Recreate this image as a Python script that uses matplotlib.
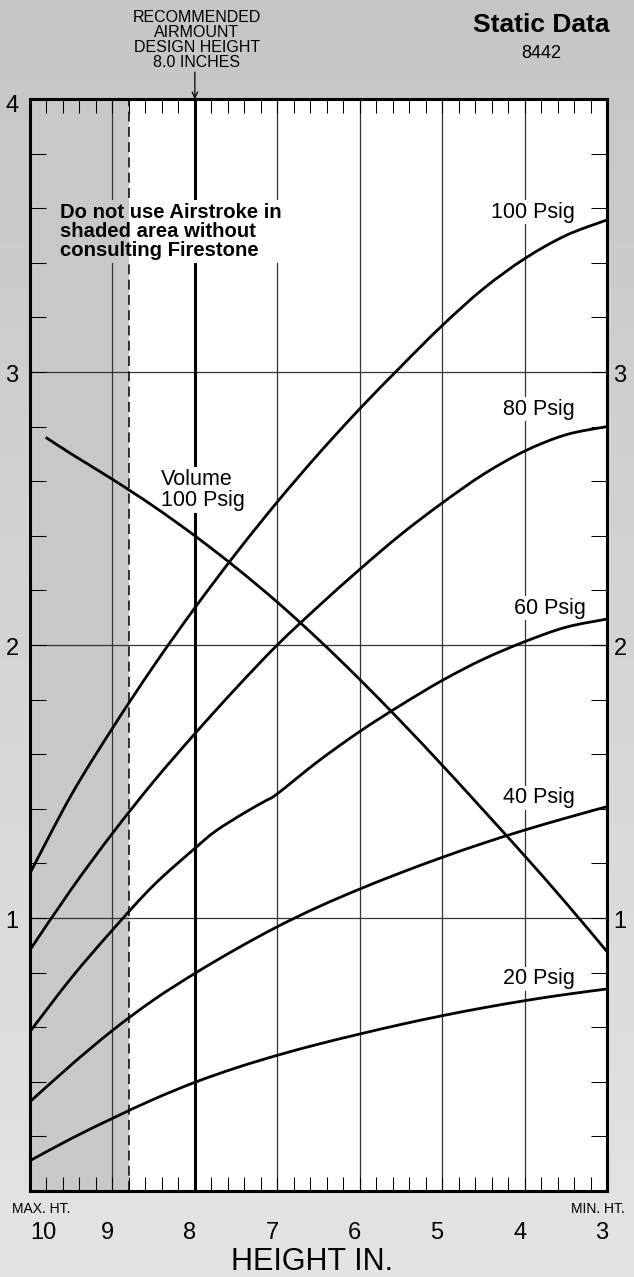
import numpy as np
import matplotlib
matplotlib.use("Agg")
import matplotlib.pyplot as plt
from matplotlib.ticker import MultipleLocator
from matplotlib.patches import Rectangle, PathPatch
from matplotlib.path import Path

plt.rcParams['font.family'] = ['Liberation Sans', 'DejaVu Sans']

# ---- data (height in inches, force in 1000 lbs) ----
height = [10, 9.5, 9, 8.5, 8, 7.5, 7, 6.5, 6, 5.5, 5, 4.5, 4, 3.5, 3]
force_100 = [1.164, 1.45, 1.695, 1.923, 2.136, 2.336, 2.524, 2.700, 2.865, 3.020,
             3.170, 3.305, 3.415, 3.500, 3.557]
force_80 = [0.883, 1.105, 1.31, 1.50, 1.675, 1.842, 2.0, 2.142, 2.277, 2.405,
            2.52, 2.625, 2.71, 2.77, 2.80]
force_40 = [0.327, 0.462, 0.588, 0.700, 0.797, 0.886, 0.968, 1.041, 1.106, 1.166,
            1.222, 1.274, 1.322, 1.366, 1.408]
force_20 = [0.111, 0.192, 0.266, 0.336, 0.398, 0.451, 0.497, 0.538, 0.575, 0.610,
            0.642, 0.671, 0.697, 0.720, 0.740]

# 60 psig has a small flat spot near 7.2 in.
height_60 = [10, 9.5, 9, 8.5, 8, 7.75, 7.4, 7.15, 7, 6.5, 6, 5.5, 5, 4.5, 4,
             3.5, 3]
force_60 = [0.584, 0.78, 0.956, 1.12, 1.255, 1.318, 1.385, 1.428, 1.455, 1.575,
            1.683, 1.78, 1.87, 1.948, 2.012, 2.065, 2.095]

# volume curve at 100 psig
height_vol = [9.81, 9.5, 9, 8.5, 8, 7.5, 7, 6.5, 6, 5.5, 5, 4.5, 4, 3.5, 3]
volume_100 = [2.761, 2.70, 2.607, 2.508, 2.400, 2.283, 2.157, 2.020, 1.874, 1.720,
              1.560, 1.395, 1.228, 1.056, 0.877]

design_height = 8.0
shade_limit = 8.8
y_labels = ['1', '2', '3']
x_labels = ['10', '9', '8', '7', '6', '5', '4', '3']

W, H = 634, 1277


def fpos(x, y):
    """pixel position (from top-left) -> figure fraction"""
    return x / W, 1 - y / H


def smooth_curve(ax, xs, ys, **kw):
    """draw a curve through the read points using Catmull-Rom bezier pieces"""
    p = np.column_stack([xs, ys]).astype(float)
    n = len(p)
    verts = [p[0]]
    codes = [Path.MOVETO]
    for i in range(n - 1):
        prev = p[i - 1] if i > 0 else p[i]
        nxt = p[i + 2] if i + 2 < n else p[i + 1]
        c1 = p[i] + (p[i + 1] - prev) / 6.0
        c2 = p[i + 1] - (nxt - p[i]) / 6.0
        verts += [c1, c2, p[i + 1]]
        codes += [Path.CURVE4] * 3
    patch = PathPatch(Path(verts, codes), fill=False, **kw)
    ax.add_patch(patch)
    return patch


fig = plt.figure(figsize=(W / 100, H / 100), dpi=100)

# background gradient
bg = fig.add_axes([0, 0, 1, 1], zorder=-10)
grad = np.linspace(0.77, 0.89, 256).reshape(-1, 1)
bg.imshow(grad, cmap='gray', vmin=0, vmax=1, aspect='auto',
          extent=[0, 1, 0, 1], origin='upper')
bg.axis('off')

left, right, top, bottom = 30, 607, 99, 1191
ax = fig.add_axes([left / W, 1 - bottom / H, (right - left) / W, (bottom - top) / H])
ax.set_facecolor('white')
ax.set_xlim(10, 3)
ax.set_ylim(0, 4)

# shaded "do not use" zone
ax.axvspan(10, shade_limit, color='#c8c8c8', lw=0, zorder=0.5)

# grid
for h in range(3, 10):
    if h != design_height:
        ax.axvline(h, color='#333333', lw=0.9, zorder=1)
for v in (1, 2, 3):
    ax.axhline(v, color='#333333', lw=0.9, zorder=1)
ax.axvline(design_height, color='black', lw=2.2, zorder=1.5)
ax.axvline(shade_limit, color='black', lw=1.1, dashes=(6.5, 3.5), zorder=1.5)

for s in ax.spines.values():
    s.set_linewidth(2.2)
    s.set_zorder(10)

ax.xaxis.set_major_locator(MultipleLocator(1))
ax.xaxis.set_minor_locator(MultipleLocator(0.2))
ax.yaxis.set_major_locator(MultipleLocator(1))
ax.yaxis.set_minor_locator(MultipleLocator(0.2))
ax.tick_params(axis='x', which='both', direction='in', top=True, bottom=True,
               length=10, width=0.75, labelbottom=False)
ax.tick_params(axis='y', which='both', direction='in', left=True, right=True,
               length=11.5, width=0.75, labelleft=False)

# warning text with knockout of grid lines
warn = ax.text(9.636, 3.515, 'Do not use Airstroke in\nshaded area without\nconsulting Firestone',
               fontsize=14.6, fontweight='bold', ha='left', va='center',
               linespacing=1.0, zorder=4)
fig.canvas.draw()
bb = warn.get_window_extent()
(x0, y0), (x1, y1) = ax.transData.inverted().transform([[bb.x0 - 5, bb.y0 - 3],
                                                         [bb.x1 + 3, bb.y1 + 3]])
ax.add_patch(Rectangle((shade_limit, y0), x1 - shade_limit, y1 - y0,
                       facecolor='white', edgecolor='none', zorder=3))
ax.add_patch(Rectangle((x0, y0), shade_limit - x0, y1 - y0,
                       facecolor='#c8c8c8', edgecolor='none', zorder=3))

# volume label (below curves)
ax.text(8.41, 2.568, 'Volume\n100 Psig', fontsize=15.5, ha='left', va='center',
        linespacing=1.0, zorder=3,
        bbox=dict(facecolor='white', edgecolor='none', pad=1.5))

# curves
curve_kw = dict(edgecolor='black', lw=2.0, capstyle='butt', zorder=5)
smooth_curve(ax, height, force_100, **curve_kw)
smooth_curve(ax, height, force_80, **curve_kw)
smooth_curve(ax, height_60, force_60, **curve_kw)
smooth_curve(ax, height, force_40, **curve_kw)
smooth_curve(ax, height, force_20, **curve_kw)
smooth_curve(ax, height_vol, volume_100, **curve_kw)

label_kw = dict(fontsize=15.5, ha='right', va='center', zorder=6,
                bbox=dict(facecolor='white', edgecolor='none', pad=1.0))
ax.text(3.39, 3.586, '100 Psig', **label_kw)
ax.text(3.39, 2.864, '80 Psig', **label_kw)
ax.text(3.26, 2.135, '60 Psig', **label_kw)
ax.text(3.39, 1.44, '40 Psig', **label_kw)
ax.text(3.39, 0.777, '20 Psig', **label_kw)

# y tick labels (both sides), a bit below the grid line
for lab in y_labels:
    v = float(lab)
    py = bottom - v * (bottom - top) / 4 + 4
    fig.text(*fpos(12, py), lab, fontsize=17, ha='center', va='center')
    fig.text(*fpos(620, py), lab, fontsize=17, ha='center', va='center')
fig.text(*fpos(12, top + 7), '4', fontsize=17, ha='center', va='center')

# x tick labels
for lab in x_labels:
    h = float(lab)
    px = left + (10 - h) * (right - left) / 7
    if h == 10:
        fig.text(*fpos(px, 1233), lab, fontsize=17, ha='left', va='center')
    else:
        fig.text(*fpos(px - 5, 1233), lab, fontsize=17, ha='center', va='center')

fig.text(*fpos(12, 1209), 'MAX. HT.', fontsize=10, ha='left', va='center')
fig.text(*fpos(625, 1209), 'MIN. HT.', fontsize=10, ha='right', va='center')
fig.text(*fpos(312, 1262), 'HEIGHT IN.', fontsize=22, ha='center', va='center')

fig.text(*fpos(541, 25), 'Static Data', fontsize=19, fontweight='bold',
         ha='center', va='center')
fig.text(*fpos(541, 53), '8442', fontsize=13, ha='center', va='center')

fig.text(*fpos(197, 40), 'RECOMMENDED\nAIRMOUNT\nDESIGN HEIGHT\n8.0 INCHES',
         fontsize=11.5, ha='center', va='center', linespacing=1.0)
ax.annotate('', xy=(design_height, 4), xytext=(design_height, 4 + 27 / 273),
            arrowprops=dict(arrowstyle='->', lw=0.9, color='black',
                            shrinkA=0, shrinkB=0),
            annotation_clip=False)

fig.savefig('out.png', dpi=100)
